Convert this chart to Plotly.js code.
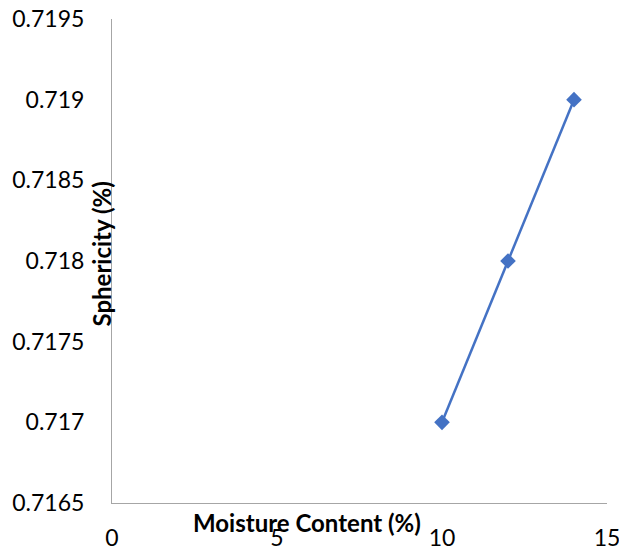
<!DOCTYPE html>
<html>
<head>
<meta charset="utf-8">
<script src="https://cdn.plot.ly/plotly-3.0.1.min.js"></script>
<style>
  html, body { margin: 0; padding: 0; background: #ffffff; }
  #chart { width: 619px; height: 550px; }
</style>
</head>
<body>
<div id="chart"></div>
<script>
// Sphericity against moisture content
const moistureContent = [10, 12, 14];
const sphericity = [0.717, 0.718, 0.719];
const xTickValues = [0, 5, 10, 15];
const yTickValues = [0.7165, 0.717, 0.7175, 0.718, 0.7185, 0.719, 0.7195];
const yTickLabels = ['0.7165', '0.717', '0.7175', '0.718', '0.7185', '0.719', '0.7195'];

const blue = '#4472C4';
const fontFamily = 'Lato, Carlito, Calibri, sans-serif';

// plot-area edges in pixels, used to place the axis titles
const plotLeft = 111.5, plotRight = 607, plotTop = 19, plotBottom = 503;

const trace = {
  x: moistureContent,
  y: sphericity,
  type: 'scatter',
  mode: 'lines+markers',
  line: { color: blue, width: 2.5 },
  marker: { symbol: 'diamond', size: 12, color: blue },
  hoverinfo: 'x+y'
};

const layout = {
  width: 619,
  height: 550,
  margin: { l: plotLeft, r: 619 - plotRight, t: plotTop, b: 550 - plotBottom },
  paper_bgcolor: '#ffffff',
  plot_bgcolor: '#ffffff',
  showlegend: false,
  font: { family: fontFamily, size: 23, color: '#000000' },
  xaxis: {
    range: [0, 15],
    tickvals: xTickValues,
    ticktext: xTickValues.map(String),
    showgrid: false,
    zeroline: false,
    showline: true,
    linecolor: '#a6a6a6',
    linewidth: 1,
    ticks: '',
    ticklabelstandoff: 14,
    ticklabeloverflow: 'allow',
    tickfont: { family: fontFamily, size: 23, color: '#000000' }
  },
  yaxis: {
    range: [0.7165, 0.7195],
    tickvals: yTickValues,
    ticktext: yTickLabels,
    showgrid: false,
    zeroline: false,
    showline: true,
    linecolor: '#a6a6a6',
    linewidth: 1,
    ticks: '',
    ticklabelstandoff: 22,
    ticklabeloverflow: 'allow',
    tickfont: { family: fontFamily, size: 23, color: '#000000' }
  },
  annotations: [
    {
      text: '<b>Moisture Content (%)</b>',
      xref: 'paper', yref: 'paper',
      x: (307 - plotLeft) / (plotRight - plotLeft),
      y: -(522 - plotBottom) / (plotBottom - plotTop),
      xanchor: 'center', yanchor: 'middle',
      showarrow: false,
      font: { family: fontFamily, size: 24, color: '#000000' }
    },
    {
      text: '<b>Sphericity (%)</b>',
      xref: 'paper', yref: 'paper',
      x: -(plotLeft - 100) / (plotRight - plotLeft),
      y: (plotBottom - 254) / (plotBottom - plotTop),
      xanchor: 'center', yanchor: 'middle',
      textangle: -90,
      showarrow: false,
      font: { family: fontFamily, size: 24, color: '#000000' }
    }
  ]
};

Plotly.newPlot('chart', [trace], layout, { displayModeBar: false, responsive: false });
</script>
</body>
</html>
